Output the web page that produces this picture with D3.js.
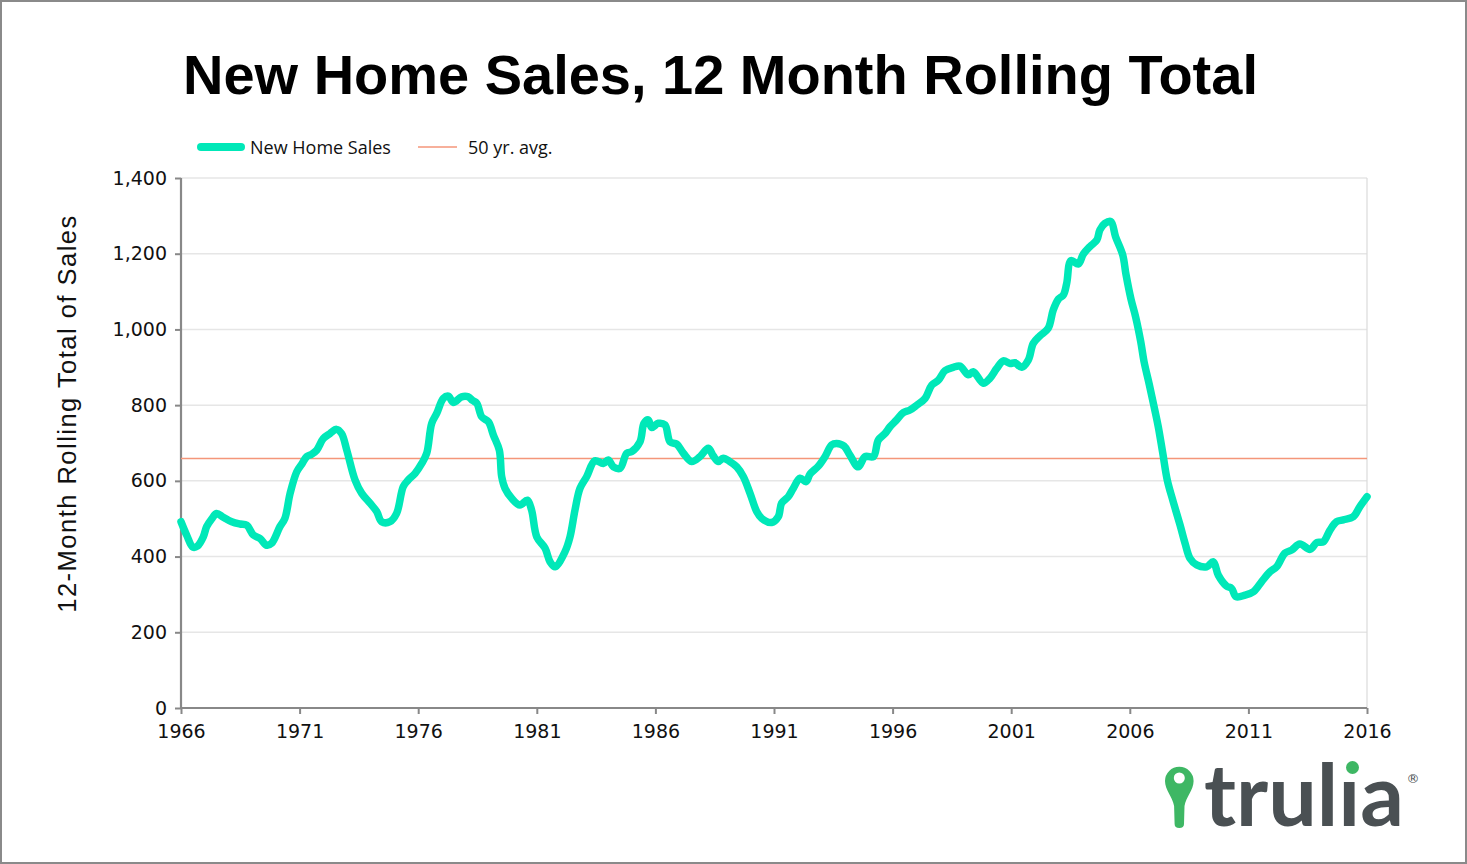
<!DOCTYPE html>
<html>
<head>
<meta charset="utf-8">
<script src="https://cdn.jsdelivr.net/npm/d3@7"></script>
<style>
  html, body { margin: 0; padding: 0; background: #fff; }
  svg { display: block; }
</style>
</head>
<body>
<svg id="chart" width="1467" height="864"></svg>
<script>
// ---- DATA ----
const title = "New Home Sales, 12 Month Rolling Total";
const yAxisTitle = "12-Month Rolling Total of Sales";
const seriesNames = ["New Home Sales", "50 yr. avg."];
const avg50yr = 659;
const xTickYears = [1966, 1971, 1976, 1981, 1986, 1991, 1996, 2001, 2006, 2011, 2016];
const yTicks = [0, 200, 400, 600, 800, 1000, 1200, 1400];

// decimal year of each reading
const years = [
  1966.0, 1966.25, 1966.5, 1966.7, 1966.94, 1967.08, 1967.3, 1967.5, 1967.78, 1968.14,
  1968.49, 1968.77, 1969.05, 1969.33, 1969.61, 1969.82, 1970.17, 1970.38, 1970.6, 1970.88,
  1971.1, 1971.3, 1971.5, 1971.72, 1972.0, 1972.28, 1972.56, 1972.77, 1972.99, 1973.34,
  1973.62, 1973.97, 1974.25, 1974.46, 1974.81, 1975.09, 1975.37, 1975.58, 1975.87, 1976.15,
  1976.36, 1976.57, 1976.78, 1977.06, 1977.27, 1977.48, 1977.83, 1978.11, 1978.3, 1978.47,
  1978.68, 1978.96, 1979.17, 1979.42, 1979.52, 1979.66, 1979.94, 1980.29, 1980.6, 1980.78,
  1981.0, 1981.35, 1981.56, 1981.77, 1982.19, 1982.4, 1982.61, 1982.82, 1983.1, 1983.45,
  1983.8, 1984.01, 1984.23, 1984.51, 1984.79, 1985.0, 1985.35, 1985.52, 1985.7, 1985.84,
  1986.12, 1986.4, 1986.62, 1986.9, 1987.18, 1987.53, 1987.88, 1988.23, 1988.44, 1988.65,
  1988.86, 1989.14, 1989.43, 1989.71, 1989.99, 1990.27, 1990.48, 1990.9, 1991.18, 1991.32,
  1991.6, 1991.81, 1992.1, 1992.35, 1992.52, 1992.87, 1993.15, 1993.43, 1993.64, 1993.95,
  1994.2, 1994.55, 1994.84, 1995.19, 1995.4, 1995.68, 1995.89, 1996.17, 1996.45, 1996.73,
  1997.02, 1997.37, 1997.65, 1997.93, 1998.21, 1998.56, 1998.84, 1999.19, 1999.4, 1999.82,
  2000.1, 2000.39, 2000.67, 2000.95, 2001.16, 2001.44, 2001.72, 2001.93, 2002.21, 2002.56,
  2002.77, 2002.99, 2003.2, 2003.34, 2003.52, 2003.83, 2004.04, 2004.32, 2004.61, 2004.74,
  2004.95, 2005.2, 2005.4, 2005.7, 2005.84, 2006.05, 2006.25, 2006.46, 2006.6, 2006.82,
  2007.02, 2007.2, 2007.39, 2007.58, 2007.83, 2008.12, 2008.33, 2008.54, 2008.82, 2009.24,
  2009.52, 2009.73, 2010.08, 2010.29, 2010.48, 2010.86, 2011.21, 2011.56, 2011.91, 2012.19,
  2012.54, 2012.82, 2013.17, 2013.6, 2013.88, 2014.16, 2014.44, 2014.72, 2015.0, 2015.42,
  2015.7, 2016.0
];
// 12-month rolling total of new home sales (thousands)
const sales = [
  492, 455, 425, 428, 452, 479, 500, 514, 504, 492,
  486, 483, 457, 448, 430, 435, 479, 501, 567, 624,
  645, 664, 670, 681, 712, 725, 736, 725, 681, 602,
  567, 541, 519, 492, 492, 514, 585, 602, 620, 646,
  673, 752, 778, 818, 824, 807, 822, 822, 812, 805,
  769, 756, 721, 681, 611, 580, 554, 536, 549, 523,
  452, 422, 386, 373, 413, 452, 523, 580, 611, 653,
  646, 655, 637, 633, 673, 677, 703, 752, 761, 741,
  752, 748, 703, 697, 673, 651, 664, 686, 666, 651,
  660, 651, 637, 611, 567, 519, 501, 490, 505, 541,
  558, 580, 607, 598, 618, 639, 664, 695, 699, 692,
  668, 637, 664, 664, 708, 725, 743, 761, 780, 787,
  800, 818, 853, 866, 891, 900, 903, 880, 888, 858,
  871, 897, 917, 910, 912, 900, 919, 963, 983, 1003,
  1051, 1080, 1091, 1122, 1182, 1173, 1199, 1219, 1236, 1263,
  1280, 1285, 1245, 1197, 1145, 1080, 1032, 968, 915, 855,
  797, 743, 673, 602, 545, 483, 435, 395, 378, 373,
  386, 351, 322, 316, 294, 298, 307, 334, 360, 373,
  409, 417, 433, 419, 437, 439, 470, 492, 497, 505,
  532, 558
];

// ---- LAYOUT / STYLE ----
const W = 1467, H = 864;
const plot = { left: 181, right: 1367, top: 178, bottom: 708 };
const lineColor = "#00E8B8";
const avgColor = "#F4967A";
const axisColor = "#888888";
const gridColor = "#E6E6E6";
const tickFont = "'DejaVu Sans', sans-serif";

const svg = d3.select("#chart");

// outer border
svg.append("rect").attr("x", 1).attr("y", 1).attr("width", W - 2).attr("height", H - 2)
  .attr("fill", "#fff").attr("stroke", "#8a8a8a").attr("stroke-width", 2);

const x = d3.scaleLinear().domain([1966, 2016]).range([plot.left, plot.right]);
const y = d3.scaleLinear().domain([0, 1400]).range([plot.bottom, plot.top]);

// gridlines
svg.append("g").selectAll("line").data(yTicks.filter(d => d > 0)).join("line")
  .attr("x1", plot.left).attr("x2", plot.right)
  .attr("y1", d => y(d)).attr("y2", d => y(d))
  .attr("stroke", gridColor).attr("stroke-width", 1.5);

// right border of plot
svg.append("line").attr("x1", plot.right).attr("x2", plot.right)
  .attr("y1", plot.top).attr("y2", plot.bottom)
  .attr("stroke", "#dadada").attr("stroke-width", 1.2);

// Y axis
const yAxis = d3.axisLeft(y).tickValues(yTicks).tickSize(6).tickPadding(8)
  .tickFormat(d3.format(","));
const gy = svg.append("g").attr("transform", `translate(${plot.left},0)`).call(yAxis);
gy.select(".domain").attr("stroke", axisColor).attr("stroke-width", 2.2)
  .attr("d", `M0,${plot.top}V${plot.bottom}`);
gy.selectAll(".tick line").attr("stroke", axisColor).attr("stroke-width", 2);
gy.selectAll(".tick text").attr("font-family", tickFont)
  .attr("font-size", 19).attr("fill", "#111");

// X axis
const xAxis = d3.axisBottom(x).tickValues(xTickYears).tickSize(6).tickPadding(11)
  .tickFormat(d3.format("d"));
const gx = svg.append("g").attr("transform", `translate(0,${plot.bottom})`).call(xAxis);
gx.select(".domain").attr("stroke", axisColor).attr("stroke-width", 2.2)
  .attr("d", `M${plot.left},0H${plot.right}`);
gx.selectAll(".tick line").attr("stroke", axisColor).attr("stroke-width", 2);
gx.selectAll(".tick text").attr("font-family", tickFont)
  .attr("font-size", 19).attr("fill", "#111");

// 50 yr average
svg.append("line").attr("x1", plot.left).attr("x2", plot.right)
  .attr("y1", y(avg50yr)).attr("y2", y(avg50yr))
  .attr("stroke", avgColor).attr("stroke-width", 1.6);

// main line
const pts = years.map((yr, i) => ({ yr, v: sales[i] }));
const line = d3.line().x(d => x(d.yr)).y(d => y(d.v)).curve(d3.curveCatmullRom.alpha(0.5));
svg.append("path").datum(pts).attr("d", line)
  .attr("fill", "none").attr("stroke", lineColor).attr("stroke-width", 7.5)
  .attr("stroke-linejoin", "round").attr("stroke-linecap", "round");

// Title
const t = svg.append("text").attr("x", 183).attr("y", 94)
  .attr("font-family", "'Liberation Sans', Arial, sans-serif").attr("font-weight", "bold")
  .attr("font-size", 56).attr("fill", "#000").text(title);
const tw = t.node().getComputedTextLength();
if (tw > 0) t.attr("font-size", 56 * 1075 / tw);

// Y axis title (fit to the reference's span with a little letter spacing)
const yt = svg.append("text")
  .attr("transform", `translate(76,${(215 + 612) / 2}) rotate(-90)`)
  .attr("text-anchor", "middle")
  .attr("font-family", "'Liberation Sans', Arial, sans-serif")
  .attr("font-size", 25.5).attr("fill", "#111").text(yAxisTitle);
const ytw = yt.node().getComputedTextLength();
if (ytw > 0 && ytw < 397) yt.attr("letter-spacing", (397 - ytw) / (yAxisTitle.length - 1));

// Legend
const lg = svg.append("g").attr("font-family", "'Open Sans', 'Liberation Sans', sans-serif")
  .attr("font-size", 18).attr("fill", "#111");
lg.append("line").attr("x1", 201).attr("x2", 241).attr("y1", 147).attr("y2", 147)
  .attr("stroke", lineColor).attr("stroke-width", 8).attr("stroke-linecap", "round");
lg.append("text").attr("x", 250).attr("y", 153.5).text(seriesNames[0]);
lg.append("line").attr("x1", 418).attr("x2", 457).attr("y1", 147).attr("y2", 147)
  .attr("stroke", avgColor).attr("stroke-width", 1.6);
lg.append("text").attr("x", 468).attr("y", 153.5).text(seriesNames[1]);

// Trulia logo
const logo = svg.append("g");
const pinGreen = "#3EB764";
logo.append("path")
  .attr("d", "M1165,781 A14.3,14.3 0 1 1 1193.6,781 C1193.6,790 1186,797 1184.5,806 L1184,824 Q1184,828 1179.3,828 Q1174.6,828 1174.6,824 L1174.1,806 C1172.6,797 1165,790 1165,781 Z")
  .attr("fill", pinGreen);
logo.append("circle").attr("cx", 1179.3).attr("cy", 778).attr("r", 5.5).attr("fill", "#fff");
const lt = logo.append("text").attr("x", 1204).attr("y", 826)
  .attr("font-family", "Lato, 'Open Sans', sans-serif").attr("font-weight", 700)
  .attr("font-size", 90).attr("fill", "#4A5053").text("trul\u0131a");
const lw = lt.node().getComputedTextLength();
if (lw > 0) lt.attr("font-size", 90 * 200 / lw);
logo.append("circle").attr("cx", 1352.5).attr("cy", 767.5).attr("r", 6.5).attr("fill", pinGreen);
logo.append("text").attr("x", 1413).attr("y", 783).attr("text-anchor", "middle")
  .attr("font-family", "'DejaVu Sans', sans-serif").attr("font-size", 13)
  .attr("fill", "#4A5053").text("\u00AE");
</script>
</body>
</html>
